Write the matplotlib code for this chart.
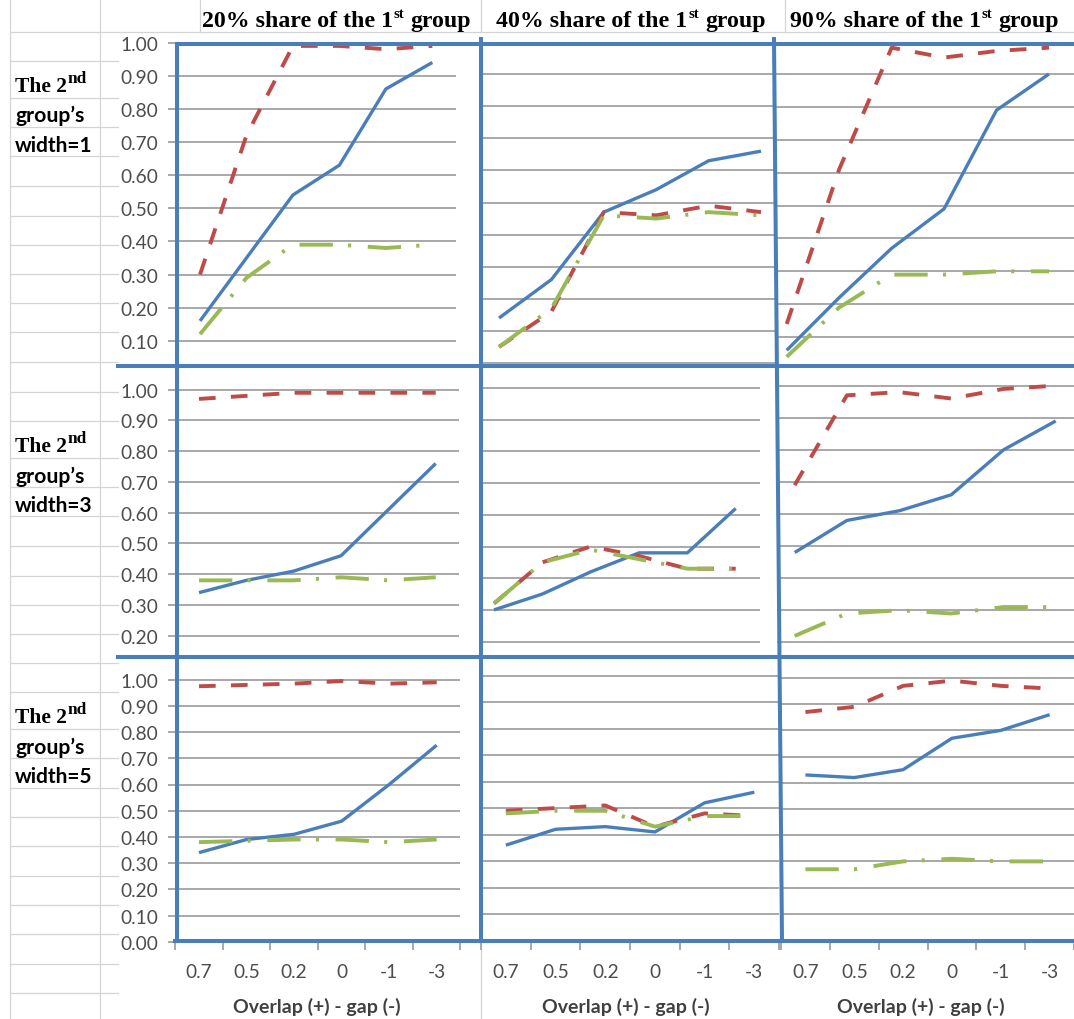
import numpy as np
import matplotlib
matplotlib.use("Agg")
import matplotlib.pyplot as plt

plt.rcParams['lines.scale_dashes'] = False

W, H = 1074, 1020

# ---------------- data ----------------
categories = ["0.7", "0.5", "0.2", "0", "-1", "-3"]
col_shares = ["20%", "40%", "90%"]
row_widths = ["1", "3", "5"]
x_title = "Overlap (+) - gap (-)"

# each list: [20% share, 40% share, 90% share]
solid_width1 = [[0.16, 0.35, 0.54, 0.63, 0.86, 0.94],
                [0.14, 0.26, 0.47, 0.54, 0.63, 0.66],
                [0.06, 0.22, 0.37, 0.49, 0.79, 0.90]]
dashed_width1 = [[0.30, 0.72, 0.99, 0.99, 0.98, 0.99],
                 [0.05, 0.16, 0.47, 0.46, 0.49, 0.47],
                 [0.14, 0.61, 0.98, 0.95, 0.97, 0.98]]
dashdot_width1 = [[0.12, 0.29, 0.39, 0.39, 0.38, 0.39],
                  [0.05, 0.17, 0.46, 0.45, 0.47, 0.46],
                  [0.04, 0.19, 0.29, 0.29, 0.30, 0.30]]

solid_width3 = [[0.34, 0.38, 0.41, 0.46, 0.61, 0.76],
                [0.30, 0.35, 0.42, 0.48, 0.48, 0.62],
                [0.48, 0.58, 0.61, 0.66, 0.80, 0.89]]
dashed_width3 = [[0.97, 0.98, 0.99, 0.99, 0.99, 0.99],
                 [0.32, 0.45, 0.50, 0.47, 0.43, 0.43],
                 [0.69, 0.97, 0.98, 0.96, 0.99, 1.00]]
dashdot_width3 = [[0.38, 0.38, 0.38, 0.39, 0.38, 0.39],
                  [0.32, 0.45, 0.49, 0.46, 0.43, 0.43],
                  [0.22, 0.29, 0.30, 0.29, 0.31, 0.31]]

solid_width5 = [[0.34, 0.39, 0.41, 0.46, 0.60, 0.75],
                [0.36, 0.42, 0.43, 0.41, 0.52, 0.56],
                [0.63, 0.62, 0.65, 0.77, 0.80, 0.86]]
dashed_width5 = [[0.975, 0.98, 0.985, 0.995, 0.985, 0.99],
                 [0.49, 0.50, 0.51, 0.43, 0.48, 0.47],
                 [0.87, 0.89, 0.97, 0.99, 0.97, 0.96]]
dashdot_width5 = [[0.38, 0.385, 0.39, 0.39, 0.38, 0.39],
                  [0.48, 0.49, 0.49, 0.43, 0.47, 0.47],
                  [0.27, 0.27, 0.30, 0.31, 0.30, 0.30]]

solid_rows = [solid_width1, solid_width3, solid_width5]
dashed_rows = [dashed_width1, dashed_width3, dashed_width5]
dashdot_rows = [dashdot_width1, dashdot_width3, dashdot_width5]

# ---------------- layout (pixels) ----------------
# clip box (L, T, R, B), x pixel of first/last category, y pixel of value 1 / value 0
geom = [
    [dict(clip=(175, 43, 481, 367), xp=(200, 432.3), yp=(43.6, 374.9)),
     dict(clip=(481, 43, 775, 367), xp=(499, 761), yp=(43, 364)),
     dict(clip=(775, 43, 1074, 367), xp=(786.7, 1049), yp=(42.1, 371))],
    [dict(clip=(175, 367, 481, 658), xp=(199, 435.7), yp=(390.7, 698.2)),
     dict(clip=(481, 367, 777, 658), xp=(494, 735.7), yp=(389, 706)),
     dict(clip=(777, 367, 1074, 658), xp=(794.7, 1055.7), yp=(386.7, 707.5))],
    [dict(clip=(175, 658, 481, 944), xp=(199, 436.7), yp=(680.7, 942.7)),
     dict(clip=(481, 658, 781, 944), xp=(502.3, 754), yp=(676.7, 941.5)),
     dict(clip=(781, 658, 1074, 944), xp=(789, 1054), yp=(679, 941))],
]

SHEET = '#d4d4d4'
GRID = '#a8a8a8'
FRAME = '#4a7ebb'
C_SOLID = '#4a7ebb'
C_DASH = '#be4b48'
C_DDOT = '#98b954'
TICKC = '#4d4d4d'
TICKFONT = 'Lato'
SERIF = ['Liberation Serif', 'DejaVu Serif']

fig = plt.figure(figsize=(W / 100, H / 100), dpi=100)
fig.patch.set_facecolor('white')

# ---------- spreadsheet background ----------
bg = fig.add_axes([0, 0, 1, 1], zorder=0)
bg.set_xlim(0, W)
bg.set_ylim(H, 0)
bg.axis('off')
for x in (10, 100):
    bg.plot([x, x], [0, H], color=SHEET, lw=0.9)
row_lines = [62, 99, 128, 157, 187, 217, 246, 275, 304, 333, 363, 393, 422, 459,
             488, 517, 547, 577, 606, 635, 664, 693, 730, 759, 789, 818, 847, 877,
             906, 935, 965, 994]
for y in row_lines:
    bg.plot([10, 118], [y, y], color=SHEET, lw=0.9)
bg.plot([10, W], [33, 33], color=SHEET, lw=0.9)
for x in (200, 481, 785):
    bg.plot([x, x], [0, 33], color=SHEET, lw=0.9)
bg.plot([481, 481], [944, H], color=SHEET, lw=0.9)

renderer = fig.canvas.get_renderer()


def sup_text(x, y, base, sup, tail, fs, family, sup_scale=0.62, weight='bold',
             color='black'):
    t = bg.text(x, y, base, fontsize=fs, family=family, weight=weight,
                color=color, va='baseline', ha='left')
    cx = x + t.get_window_extent(renderer).width
    t2 = bg.text(cx + 1, y - fs * 0.55, sup, fontsize=fs * sup_scale, family=family,
                 weight=weight, color=color, va='baseline', ha='left')
    cx = cx + 1 + t2.get_window_extent(renderer).width
    if tail:
        bg.text(cx + fs * 0.35, y, tail, fontsize=fs, family=family, weight=weight,
                color=color, va='baseline', ha='left')


# column headers
header_x = [202, 496, 790]
for cx, share in zip(header_x, col_shares):
    sup_text(cx, 27, f"{share} share of the 1", "st", "group", 17.2, SERIF)

# row labels
row_base = [(92, 121.7, 151.7), (451.7, 482.7, 511.7), (723, 754, 782.7)]
for (yb1, yb2, yb3), wtxt in zip(row_base, row_widths):
    sup_text(15, yb1, "The 2", "nd", "", 15.5, SERIF, sup_scale=0.8)
    bg.text(15, yb2, "group\u2019s", fontsize=15.3, family=TICKFONT, weight='bold',
            va='baseline', ha='left')
    bg.text(15, yb3, f"width={wtxt}", fontsize=15, family=TICKFONT, weight='bold',
            va='baseline', ha='left')

# x-axis titles
for xc in (317, 626, 921):
    bg.text(xc, 1007, x_title, fontsize=14, family=TICKFONT, weight='bold',
            color='#404040', ha='center', va='center')

# ---------- panels ----------
gridvals = np.round(np.arange(0, 1.0001, 0.1), 2)
xs = np.arange(len(categories))
for r in range(3):
    for c in range(3):
        g = geom[r][c]
        L, T, R, B = g['clip']
        x0p, x5p = g['xp']
        y1p, y0p = g['yp']
        dx = (x5p - x0p) / 5.0
        S = y0p - y1p
        ax = fig.add_axes([L / W, 1 - B / H, (R - L) / W, (B - T) / H], zorder=2)
        ax.patch.set_alpha(0)
        for s in ax.spines.values():
            s.set_visible(False)
        ax.set_xlim((L - x0p) / dx, (R - x0p) / dx)
        ylo, yhi = (y0p - B) / S, (y0p - T) / S
        ax.set_ylim(ylo, yhi)

        ax.hlines(gridvals, -0.5, 5.5, color=GRID, lw=1.4, zorder=1)

        if c == 0:
            vis = [v for v in gridvals if ylo <= v <= yhi]
            ax.set_yticks(vis, [f"{v:.2f}" for v in vis])
            ax.tick_params(axis='y', direction='out', length=5, width=1.4,
                           color=GRID, pad=7, labelsize=13.8, labelcolor=TICKC)
            for lab in ax.get_yticklabels():
                lab.set_family(TICKFONT)
        else:
            ax.set_yticks([])

        if r == 2:
            ax.set_xticks(np.arange(-0.5, 6, 1.0), [""] * 7)
            ax.set_xticks(xs, categories, minor=True)
            ax.tick_params(axis='x', which='major', direction='out', length=5,
                           width=1.4, color=GRID)
            ax.tick_params(axis='x', which='minor', length=0, pad=14.5,
                           labelsize=13.8, labelcolor=TICKC)
            for lab in ax.get_xticklabels(minor=True):
                lab.set_family(TICKFONT)
        else:
            ax.set_xticks([])

        ax.plot(xs, solid_rows[r][c], color=C_SOLID, lw=2.4, zorder=3,
                solid_joinstyle='round', solid_capstyle='butt')
        ax.plot(xs, dashed_rows[r][c], color=C_DASH, lw=2.8, zorder=4,
                dashes=(12, 11), dash_joinstyle='round')
        ax.plot(xs, dashdot_rows[r][c], color=C_DDOT, lw=2.8, zorder=5,
                dashes=(24, 11, 2.2, 12), dash_joinstyle='round')

# ---------- blue frame lines ----------
ov = fig.add_axes([0, 0, 1, 1], zorder=10)
ov.set_xlim(0, W)
ov.set_ylim(H, 0)
ov.axis('off')
ov.patch.set_alpha(0)
frame_segments = [((177, 45), (1074, 45)), ((118, 367), (1074, 367)),
                  ((118, 658), (1074, 658)), ((175, 942), (1074, 942)),
                  ((177, 45), (177, 942)), ((481, 40), (481, 942)),
                  ((774, 40), (782, 942))]
for (xa, ya), (xb, yb) in frame_segments:
    ov.plot([xa, xb], [ya, yb], color=FRAME, lw=2.9, solid_capstyle='projecting')

fig.savefig("out.png", dpi=100, facecolor='white')
